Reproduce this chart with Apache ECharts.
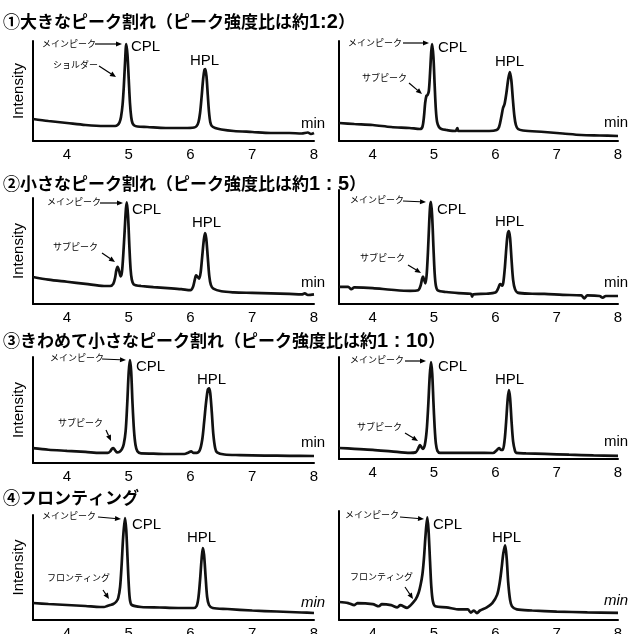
<!DOCTYPE html>
<html><head><meta charset="utf-8">
<script src="https://cdn.jsdelivr.net/npm/echarts@6/dist/echarts.min.js"></script>
<style>html,body{margin:0;padding:0;background:#fff}#c{width:628px;height:634px}</style>
</head><body><div id="c"></div>
<script>
// ---- data (retention time [min], intensity in % of axis height) ----
const xTicks = [4, 5, 6, 7, 8];
const titles = [
  ['①大きなピーク割れ（ピーク強度比は約', '1:2', '）'],
  ['②小さなピーク割れ（ピーク強度比は約', '1 : 5', '）'],
  ['③きわめて小さなピーク割れ（ピーク強度比は約', '1 : 10', '）'],
  ['④フロンティング', '', '']
];
const subLabels = ['ショルダー', 'サブピーク', 'サブピーク', 'サブピーク', 'サブピーク', 'サブピーク', 'フロンティング', 'フロンティング'];

const p1L = [[3.45,22],[3.7,20],[4.0,18],[4.3,16],[4.6,15],[4.78,15],[4.82,16],[4.85,18.5],[4.875,24],[4.9,36],[4.92,54],[4.94,78],[4.96,97],[4.98,86],[5.0,62],[5.02,38],[5.04,24],[5.06,18],[5.09,15.5],[5.14,14.5],[5.3,14],[5.6,13],[5.9,13],[6.06,13.5],[6.1,15],[6.13,19],[6.155,28],[6.18,44],[6.205,62],[6.225,71],[6.24,72],[6.26,64],[6.28,46],[6.3,29],[6.32,19],[6.345,15],[6.4,13],[6.5,11.5],[6.7,10],[7.0,9],[7.3,8],[7.6,8],[7.8,7.5],[7.9,8.5],[7.95,7],[8.0,8]];
const p1R = [[3.45,18],[3.7,17],[4.0,16],[4.3,14],[4.6,13],[4.77,12],[4.81,14],[4.835,24],[4.855,38],[4.875,45],[4.895,46],[4.915,50],[4.935,68],[4.955,90],[4.97,97],[4.99,84],[5.01,56],[5.03,31],[5.05,19],[5.08,14],[5.12,12],[5.2,11],[5.35,10],[5.38,13],[5.4,10],[5.6,10],[5.9,10],[6.02,11],[6.06,14],[6.1,25],[6.125,33],[6.15,37],[6.18,48],[6.21,62],[6.235,69],[6.26,61],[6.285,42],[6.31,25],[6.335,16],[6.37,12],[6.45,10.5],[6.8,9],[7.1,7.5],[7.4,6],[7.7,5.5],[8.0,5]];
const p2L = [[3.45,25.5],[3.7,23],[4.0,21],[4.3,19],[4.6,17],[4.7,17],[4.75,19],[4.78,25],[4.8,32],[4.82,35],[4.845,31],[4.87,26],[4.89,30],[4.91,45],[4.935,70],[4.955,90],[4.97,96],[4.99,82],[5.01,55],[5.03,33],[5.05,23],[5.08,18.5],[5.13,17.5],[5.2,17],[5.4,16],[5.63,15],[5.85,14],[6.0,13],[6.04,16],[6.07,23],[6.09,27],[6.11,26],[6.14,24],[6.165,30],[6.19,45],[6.215,60],[6.235,67],[6.255,62],[6.28,44],[6.305,26],[6.33,18],[6.37,14.5],[6.5,12],[6.7,11],[7.0,10.5],[7.3,10],[7.6,9.5],[7.8,9],[7.85,10],[7.9,8.5],[8.0,9]];
const p2R = [[3.45,15],[3.6,15],[3.65,13],[3.7,14.5],[4.0,14],[4.3,12.5],[4.61,11.5],[4.74,12],[4.78,16],[4.805,22],[4.82,24],[4.84,21],[4.86,18],[4.88,26],[4.9,45],[4.92,70],[4.935,85],[4.95,89.5],[4.97,76],[4.99,50],[5.01,27],[5.03,16],[5.06,12],[5.2,10.5],[5.4,9.5],[5.6,9],[5.62,6.5],[5.64,8.5],[5.85,9],[6.0,10],[6.04,13],[6.07,17],[6.085,17.5],[6.11,16],[6.13,19],[6.155,32],[6.18,50],[6.2,61],[6.22,64],[6.24,58],[6.265,38],[6.29,21],[6.32,13],[6.36,10],[6.6,9],[6.8,8.8],[7.1,8],[7.4,7.5],[7.45,5],[7.5,7.5],[7.7,7],[7.75,5.5],[7.8,7],[8.0,7]];
const p3L = [[3.45,14],[3.7,12.5],[4.0,11.5],[4.3,10.5],[4.54,9.5],[4.66,9.5],[4.7,11],[4.73,13.5],[4.75,14],[4.78,12],[4.81,10],[4.85,10.5],[4.89,13],[4.92,18],[4.95,30],[4.975,55],[5.0,86],[5.02,97],[5.04,86],[5.06,58],[5.085,31],[5.11,17],[5.14,11],[5.2,9],[5.4,8.8],[5.63,8.5],[5.9,8.5],[5.97,10],[6.01,11],[6.05,9.5],[6.1,9.5],[6.15,12],[6.19,22],[6.22,38],[6.25,56],[6.28,69],[6.3,70.5],[6.32,66],[6.345,48],[6.37,27],[6.4,14],[6.43,10],[6.55,8],[6.8,7.5],[7.2,7],[7.6,6.8],[8.0,6.6]];
const p3R = [[3.45,10.8],[3.7,10],[4.0,9],[4.3,7.5],[4.61,6],[4.7,6.5],[4.74,10],[4.77,13.7],[4.795,11.5],[4.82,10],[4.85,14],[4.88,28],[4.905,52],[4.93,82],[4.95,95],[4.97,84],[4.99,56],[5.01,31],[5.03,15],[5.055,8],[5.1,6],[5.4,6],[5.7,6],[5.96,5.9],[6.02,8.5],[6.06,10.8],[6.09,9],[6.12,9],[6.15,18],[6.175,36],[6.2,58],[6.22,67.6],[6.24,60],[6.265,36],[6.29,17],[6.32,8],[6.34,6],[6.5,5.5],[6.8,5],[7.2,4.2],[7.6,3.5],[8.0,3]];
const p4L = [[3.45,12],[3.7,11],[4.0,10],[4.3,9],[4.54,8],[4.6,8],[4.65,9],[4.7,10],[4.75,11],[4.8,13.5],[4.83,17],[4.86,28],[4.885,50],[4.91,78],[4.94,97],[4.96,85],[4.98,58],[5.0,31],[5.02,15],[5.05,10],[5.2,8],[5.5,7.5],[5.8,7],[6.05,7],[6.1,9],[6.13,18],[6.155,35],[6.18,56],[6.2,67],[6.22,60],[6.245,38],[6.27,18],[6.3,10],[6.36,7],[6.6,6],[7.0,4.5],[7.4,3.5],[7.8,2.5],[8.0,2]];
const p4R = [[3.45,14],[3.6,13],[3.7,11],[3.75,13],[4.0,12],[4.1,10],[4.15,12],[4.3,11],[4.4,9],[4.45,11],[4.56,8.5],[4.6,10],[4.65,13],[4.7,16.5],[4.75,23],[4.78,30],[4.81,40],[4.835,55],[4.86,76],[4.89,94],[4.91,82],[4.935,52],[4.955,29],[4.98,15],[5.02,10],[5.2,9],[5.42,7],[5.55,7],[5.6,4],[5.65,6],[5.7,3.5],[5.75,6],[5.86,9],[5.95,13],[6.03,21],[6.07,32],[6.1,45],[6.13,60],[6.16,67.6],[6.185,55],[6.21,32],[6.24,16],[6.27,10],[6.35,7],[6.6,6],[7.0,5],[7.5,4.2],[8.0,3.8]];

// ---- layout ----
const panels = [p1L, p1R, p2L, p2R, p3L, p3R, p4L, p4R];
const grids = [
  {left:33, top:41, width:281, height:100}, {left:339, top:41, width:279, height:100},
  {left:33, top:198, width:281, height:106}, {left:339, top:190, width:279, height:114},
  {left:33, top:357, width:281, height:106}, {left:339, top:357, width:279, height:102},
  {left:33, top:515, width:281, height:105}, {left:339, top:511, width:279, height:109}
].map(g => Object.assign(g, {outerBoundsMode: 'none', containLabel: false}));
const yMins = [0, 0, 0, 0, 0, 0, -5, -3];
const titleTops = [12, 174, 331, 489];
// annotation layout: [mainTextX, mainY, arrow x1,y1,x2,y2, cplX, cplY, hplX, hplY, subX, subY, sub arrow x1,y1,x2,y2, minX, minY]
const ann = [
  [42,44, 95,44,122,44, 131,47, 190,61, 53,65, 99,66,116,77, 301,124],
  [348,43, 403,43,429,43, 438,48, 495,62, 362,78, 409,83,422,94, 604,123],
  [47,202, 100,203,123,203, 132,210, 192,223, 53,247, 102,253,115,262, 301,283],
  [350,200, 403,201,426,202, 437,210, 495,222, 360,258, 408,265,421,273, 604,283],
  [50,358, 102,359,126,360, 136,367, 197,380, 58,423, 106,430,111,441, 301,443],
  [350,360, 405,361,426,361, 438,367, 495,380, 357,427, 405,433,418,441, 604,442],
  [42,516, 98,517,121,519, 132,525, 187,538, 47,578, 103,590,109,599, 301,603],
  [345,515, 400,517,424,519, 433,525, 492,538, 350,577, 405,587,413,599, 604,601]
];

const JP = '"Noto Sans CJK JP", sans-serif';
const AR = '"Liberation Sans", Arial, sans-serif';

function arrow(x1, y1, x2, y2) {
  const a = Math.atan2(y2 - y1, x2 - x1), L = 6, W = 2.6;
  const bx = x2 - L * Math.cos(a), by = y2 - L * Math.sin(a);
  const nx = -Math.sin(a), ny = Math.cos(a);
  return [
    {type:'line', shape:{x1:x1, y1:y1, x2:bx, y2:by}, style:{stroke:'#000', lineWidth:1.2}},
    {type:'polygon', shape:{points:[[x2,y2],[bx+nx*W,by+ny*W],[bx-nx*W,by-ny*W]]}, style:{fill:'#000'}}
  ];
}
function txt(s, x, y, font) {
  return {type:'text', x:x, y:y, style:{text:s, font:font, fill:'#000', textVerticalAlign:'middle', verticalAlign:'middle', textAlign:'left', align:'left'}};
}

const graphics = [];
ann.forEach((a, i) => {
  graphics.push(txt('メインピーク', a[0], a[1], '9px ' + JP));
  graphics.push(...arrow(a[2], a[3], a[4], a[5]));
  graphics.push(txt('CPL', a[6], a[7], '15px ' + AR));
  graphics.push(txt('HPL', a[8], a[9], '15px ' + AR));
  graphics.push(txt(subLabels[i], a[10], a[11], '9px ' + JP));
  graphics.push(...arrow(a[12], a[13], a[14], a[15]));
  graphics.push(txt('min', a[16], a[17], (i >= 6 ? 'italic ' : '') + '15px ' + AR));
});

const option = {
  animation: false,
  backgroundColor: '#fff',
  title: titles.map((t, r) => ({
    left: 3, top: titleTops[r], padding: 0,
    text: '{j|' + t[0] + '}' + (t[1] ? '{b|' + t[1] + '}{j|' + t[2] + '}' : ''),
    textStyle: {rich: {
      j: {fontFamily: JP, fontSize: 17, color: '#000', fontWeight: 'bold'},
      b: {fontFamily: AR, fontSize: 20, color: '#000', fontWeight: 'bold'}
    }}
  })),
  grid: grids,
  xAxis: grids.map((g, i) => ({
    gridIndex: i, type: 'value', min: 3.45, max: 8,
    axisLine: {onZero: false, lineStyle: {color: '#000', width: 2}},
    axisTick: {show: false}, splitLine: {show: false},
    axisLabel: {customValues: xTicks, fontSize: 15, fontFamily: AR, color: '#000', margin: i >= 6 ? 6 : 6}
  })),
  yAxis: grids.map((g, i) => ({
    gridIndex: i, type: 'value', min: yMins[i], max: 100,
    axisLine: {show: true, onZero: false, lineStyle: {color: '#000', width: 2}},
    axisTick: {show: false}, splitLine: {show: false}, axisLabel: {show: false},
    name: i % 2 === 0 ? 'Intensity' : '', nameLocation: 'middle', nameGap: 7,
    nameTextStyle: {fontSize: 15, fontFamily: AR, color: '#000'}
  })),
  series: panels.map((d, i) => ({
    type: 'line', xAxisIndex: i, yAxisIndex: i, data: d,
    showSymbol: false, smooth: 0.3, silent: true,
    lineStyle: {color: '#111', width: 2.7}
  })),
  graphic: graphics
};
const chart = echarts.init(document.getElementById('c'), null, {renderer: 'canvas'});
chart.setOption(option);
</script>
</body></html>
